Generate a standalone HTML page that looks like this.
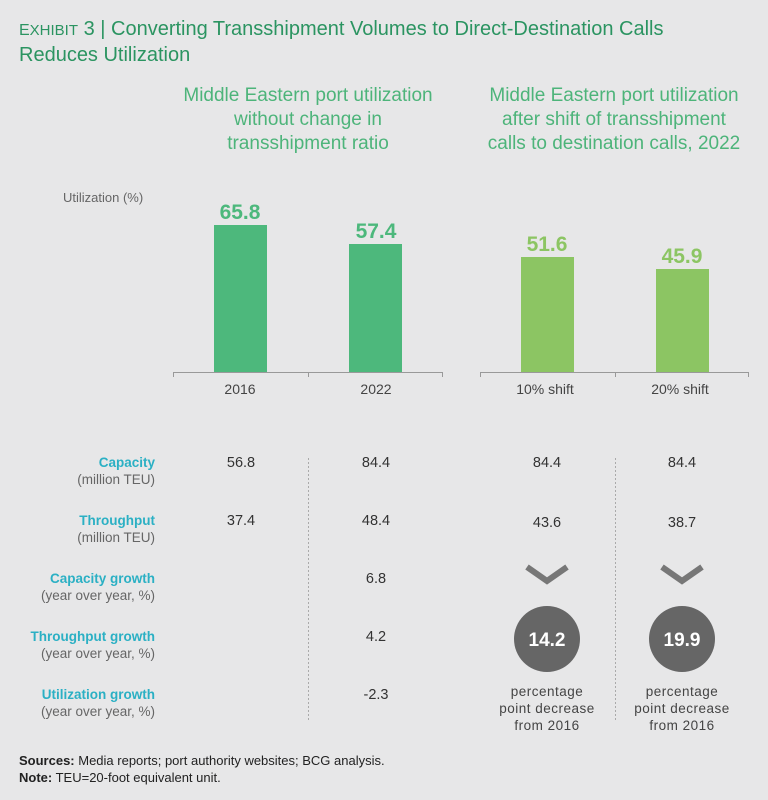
<!DOCTYPE html>
<html><head><style>
body{margin:0;width:768px;height:800px;background:#e7e7e8;font-family:"Liberation Sans",sans-serif;position:relative;overflow:hidden}
.a{position:absolute}
.t{color:#2b9461;font-size:20px;line-height:24px}
.h{color:#4db47a;font-size:19px;line-height:24px;text-align:center;width:300px}
.lab{text-align:right;width:155px;left:0;font-size:13.5px;line-height:17px}
.lab b{color:#2bb0c4}
.lab span{color:#666}
.v{font-size:14.5px;color:#333;text-align:center;width:80px}
.pp{font-size:13.5px;color:#444;text-align:center;width:120px;line-height:17px;letter-spacing:.5px}
</style></head><body>
<div class="a t" style="left:19px;top:17px"><span style="font-size:16px">E</span><span style="font-size:15px">XHIBIT</span> 3 | Converting Transshipment Volumes to Direct-Destination Calls<br>Reduces Utilization</div>
<div class="a h" style="left:158px;top:84px">Middle Eastern port utilization<br>without change in<br>transshipment ratio</div>
<div class="a h" style="left:464px;top:84px">Middle Eastern port utilization<br>after shift of transshipment<br>calls to destination calls, 2022</div>
<div class="a" style="left:63px;top:190px;font-size:13px;color:#666">Utilization (%)</div>
<svg class="a" style="left:0;top:0" width="768" height="800">
<g font-family="Liberation Sans" font-weight="bold" font-size="21" text-anchor="middle">
<rect x="214" y="225" width="53" height="147" fill="#4db87c"/><text x="240" y="219" fill="#4db87c">65.8</text>
<rect x="349" y="244" width="53" height="128" fill="#4db87c"/><text x="376" y="238" fill="#4db87c">57.4</text>
<rect x="521" y="257" width="53" height="115" fill="#8cc563"/><text x="547" y="251" fill="#8cc563">51.6</text>
<rect x="656" y="269" width="53" height="103" fill="#8cc563"/><text x="682" y="263" fill="#8cc563">45.9</text>
</g>
<g stroke="#999" stroke-width="1">
<line x1="173" y1="372.5" x2="443" y2="372.5"/><line x1="480" y1="372.5" x2="749" y2="372.5"/>
<line x1="173.5" y1="372" x2="173.5" y2="377"/><line x1="308.5" y1="372" x2="308.5" y2="377"/><line x1="442.5" y1="372" x2="442.5" y2="377"/>
<line x1="480.5" y1="372" x2="480.5" y2="377"/><line x1="615.5" y1="372" x2="615.5" y2="377"/><line x1="748.5" y1="372" x2="748.5" y2="377"/>
<line x1="308.5" y1="458" x2="308.5" y2="720" stroke-dasharray="2,2" stroke="#aaa"/>
<line x1="615.5" y1="458" x2="615.5" y2="720" stroke-dasharray="2,2" stroke="#aaa"/>
</g>
<g font-family="Liberation Sans" font-size="14" fill="#444" text-anchor="middle">
<text x="240" y="394">2016</text><text x="376" y="394">2022</text><text x="545" y="394">10% shift</text><text x="680" y="394">20% shift</text>
</g>
<polyline points="527,567 547,581 567,567" fill="none" stroke="#777" stroke-width="6"/>
<polyline points="662,567 682,581 702,567" fill="none" stroke="#777" stroke-width="6"/>
<circle cx="547" cy="639" r="33" fill="#666"/><circle cx="682" cy="639" r="33" fill="#666"/>
<g font-family="Liberation Sans" font-weight="bold" font-size="19" fill="#fff" text-anchor="middle">
<text x="547" y="646">14.2</text><text x="682" y="646">19.9</text></g>
</svg>
<div class="a lab" style="top:454px"><b>Capacity</b><br><span>(million TEU)</span></div>
<div class="a lab" style="top:512px"><b>Throughput</b><br><span>(million TEU)</span></div>
<div class="a lab" style="top:570px"><b>Capacity growth</b><br><span>(year over year, %)</span></div>
<div class="a lab" style="top:628px"><b>Throughput growth</b><br><span>(year over year, %)</span></div>
<div class="a lab" style="top:686px"><b>Utilization growth</b><br><span>(year over year, %)</span></div>
<div class="a v" style="left:201px;top:455px">56.8</div>
<div class="a v" style="left:336px;top:455px">84.4</div>
<div class="a v" style="left:507px;top:455px">84.4</div>
<div class="a v" style="left:642px;top:455px">84.4</div>
<div class="a v" style="left:201px;top:513px">37.4</div>
<div class="a v" style="left:336px;top:513px">48.4</div>
<div class="a v" style="left:507px;top:515px">43.6</div>
<div class="a v" style="left:642px;top:515px">38.7</div>
<div class="a v" style="left:336px;top:571px">6.8</div>
<div class="a v" style="left:336px;top:629px">4.2</div>
<div class="a v" style="left:336px;top:687px">-2.3</div>
<div class="a pp" style="left:487px;top:683px">percentage<br>point decrease<br>from 2016</div>
<div class="a pp" style="left:622px;top:683px">percentage<br>point decrease<br>from 2016</div>
<div class="a" style="left:19px;top:752px;font-size:13px;color:#222;line-height:17px"><b>Sources:</b> Media reports; port authority websites; BCG analysis.<br><b>Note:</b> TEU=20-foot equivalent unit.</div>
</body></html>
